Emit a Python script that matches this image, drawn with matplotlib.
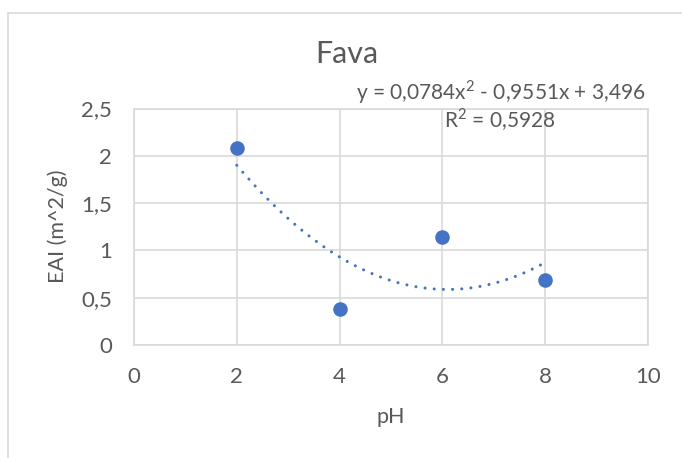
import numpy as np
import matplotlib.pyplot as plt
from matplotlib.patches import Rectangle

# data
ph = [2, 4, 6, 8]
eai = [2.083, 0.380, 1.138, 0.689]
x_ticks = [0, 2, 4, 6, 8, 10]
y_ticks = [0, 0.5, 1, 1.5, 2, 2.5]
eq_label = 'y = 0,0784x$^2$ - 0,9551x + 3,496'
r2_label = 'R$^2$ = 0,5928'

plt.rcParams['font.family'] = ['Lato', 'DejaVu Sans']
plt.rcParams['mathtext.fontset'] = 'custom'
plt.rcParams['mathtext.rm'] = 'Lato'

blue = '#4472C4'
grey_text = '#595959'
grid_col = '#d9d9d9'

fig = plt.figure(figsize=(6.82, 4.58), dpi=100)
fig.patches.append(Rectangle((8 / 682, -0.1), 1.0, 1 - 13 / 458 + 0.1,
                             transform=fig.transFigure, fill=False,
                             edgecolor='#d9d9d9', linewidth=1.2))

ax = fig.add_axes([134 / 682, 1 - 345 / 458, (648 - 134) / 682, (345 - 108.5) / 458])

# polynomial trendline (order 2), like Excel
coef = np.polyfit(ph, eai, 2)
xs = np.linspace(min(ph), max(ph), 200)
ax.plot(xs, np.polyval(coef, xs), color=blue, linewidth=2.2,
        linestyle=(0, (0.01, 3.0)), dash_capstyle='round', zorder=2)
ax.scatter(ph, eai, s=110, color=blue, zorder=3, linewidths=0)

ax.set_xlim(0, 10)
ax.set_ylim(0, 2.5)
ax.set_xticks(x_ticks)
ax.set_yticks(y_ticks)
ax.set_xticklabels([str(v) for v in x_ticks])
ax.set_yticklabels([('%g' % v).replace('.', ',') for v in y_ticks])
ax.grid(True, color=grid_col, linewidth=1.2)
ax.set_axisbelow(True)
for s in ax.spines.values():
    s.set_color(grid_col)
    s.set_linewidth(1.2)
ax.tick_params(length=0, labelsize=16, colors=grey_text)
ax.tick_params(axis='x', pad=16)
ax.tick_params(axis='y', pad=16)

# axis titles placed in figure pixels
fig.text(391 / 682, 1 - 417 / 458, 'pH', fontsize=15.5, color=grey_text,
         ha='center', va='center')
fig.text(58 / 682, 1 - 226 / 458, 'EAI (m^2/g)', fontsize=15.5, color=grey_text,
         ha='center', va='center', rotation=90)

fig.text(347 / 682, 1 - 54 / 458, 'Fava', fontsize=22,
         color=grey_text, ha='center', va='center')

fig.text(646 / 682, 1 - 92 / 458, eq_label, fontsize=15,
         color=grey_text, ha='right', va='center')
fig.text(500 / 682, 1 - 120 / 458, r2_label, fontsize=15,
         color=grey_text, ha='center', va='center')

fig.savefig('out.png', dpi=100)
